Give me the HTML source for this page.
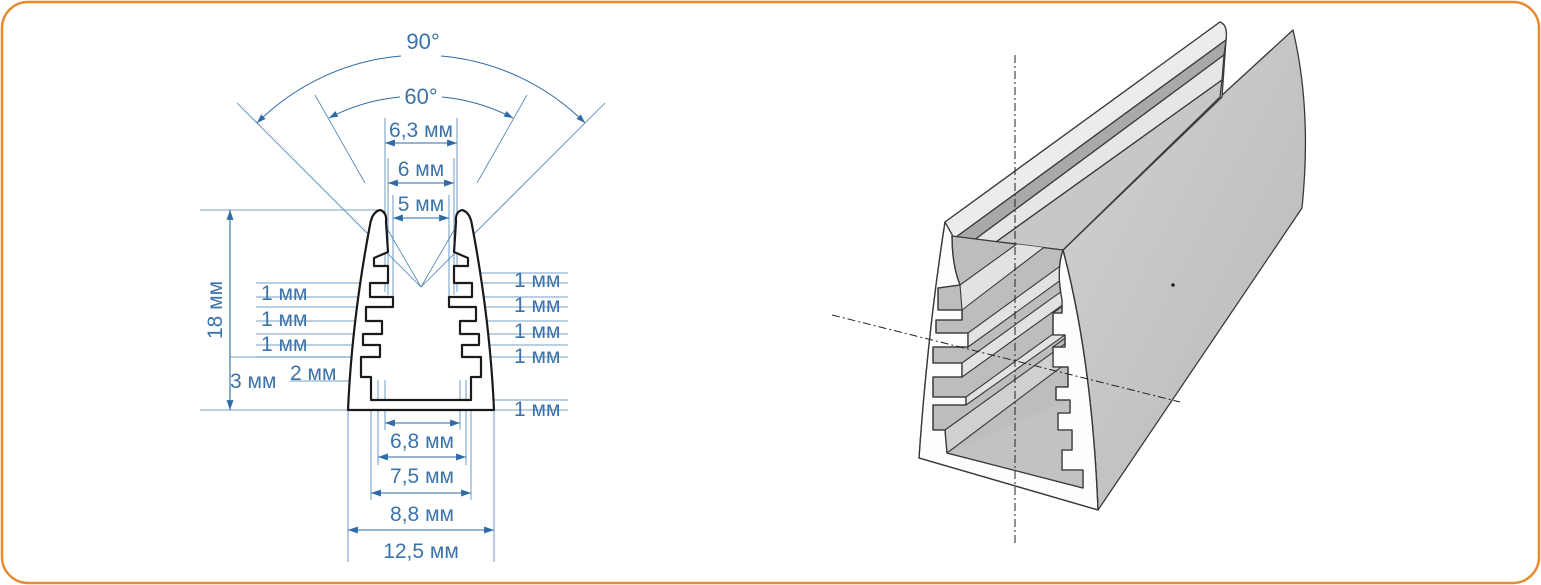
<!DOCTYPE html>
<html><head><meta charset="utf-8"><style>
html,body{margin:0;padding:0;background:#fff}
svg{display:block}
text{font-family:"Liberation Sans",sans-serif;fill:#3b73aa}
</style></head><body>
<svg width="1541" height="585" viewBox="0 0 1541 585" xmlns="http://www.w3.org/2000/svg">
<defs>
<marker id="a" viewBox="0 0 10 10" refX="10" refY="5" markerWidth="9" markerHeight="9" orient="auto-start-reverse"><path d="M0,1.5 L10,5 L0,8.5 Z" fill="#2f6aa6"/></marker>
<linearGradient id="g1" x1="0" y1="0" x2="1" y2="1"><stop offset="0" stop-color="#d2d2d2"/><stop offset="1" stop-color="#b8b8b8"/></linearGradient>
<clipPath id="op"><path id="opp" d="M952,236 Q952,265 960,285 L938,288 L938,310 L962,310 L962,320 L936,320 L936,333 L968,333 L968,347 L933,347 L933,363 L962,363 L962,377 L933,377 L933,397 L966,397 L966,405 L933,405 L933,430 L945,430 L947,453 L1083,488 L1083,470 L1062,470 L1062,450 L1072,450 L1072,430 L1058,430 L1058,413 L1070,413 L1070,400 L1056,400 L1056,387 L1068,387 L1068,367 L1053,367 L1053,347 L1065,347 L1065,335 L1053,335 L1053,313 L1062,313 L1062,300 Q1056,270 1063,250 Z"/></clipPath>
</defs>
<rect x="2" y="2" width="1537" height="581" rx="26" fill="#fff" stroke="#ea8a2e" stroke-width="2.5"/>

<!-- angle rays -->
<g stroke="#4a7fb5" stroke-width="0.8" fill="none">
<line x1="237" y1="103" x2="421" y2="287"/>
<line x1="605" y1="103" x2="421" y2="287"/>
<line x1="315" y1="95" x2="365" y2="183"/>
<line x1="527" y1="95" x2="477" y2="183"/>
<line x1="385" y1="225" x2="421" y2="287"/>
<line x1="457" y1="225" x2="421" y2="287"/>
</g>
<g stroke="#2f6aa6" stroke-width="1" fill="none">
<path d="M257,123 A232,232 0 0 1 401,56" marker-start="url(#a)"/>
<path d="M441,56 A232,232 0 0 1 585,123" marker-end="url(#a)"/>
<path d="M329,118 A192,192 0 0 1 400,97" marker-start="url(#a)"/>
<path d="M442,97 A192,192 0 0 1 513,118" marker-end="url(#a)"/>
</g>
<text x="423" y="49" font-size="22" text-anchor="middle">90°</text>
<text x="421" y="104" font-size="22" text-anchor="middle">60°</text>

<!-- dimension lines -->
<g stroke="#4a7fb5" stroke-width="0.8">
<line x1="385" y1="118" x2="385" y2="292"/><line x1="457" y1="118" x2="457" y2="292"/>
<line x1="388" y1="158" x2="388" y2="295"/><line x1="454" y1="158" x2="454" y2="295"/>
<line x1="393" y1="195" x2="393" y2="300"/><line x1="449" y1="195" x2="449" y2="300"/>
<line x1="200" y1="210" x2="380" y2="210"/>
<line x1="200" y1="410" x2="568" y2="410"/>
<line x1="230" y1="357" x2="360" y2="357"/>
<line x1="290" y1="381" x2="350" y2="381"/>
<line x1="256" y1="283" x2="372" y2="283"/><line x1="256" y1="297" x2="392" y2="297"/>
<line x1="256" y1="307" x2="392" y2="307"/><line x1="256" y1="321" x2="382" y2="321"/>
<line x1="256" y1="334" x2="382" y2="334"/><line x1="256" y1="345" x2="380" y2="345"/>
<line x1="256" y1="357" x2="380" y2="357"/>
<line x1="455" y1="273" x2="568" y2="273"/><line x1="455" y1="283" x2="568" y2="283"/>
<line x1="450" y1="297" x2="568" y2="297"/><line x1="450" y1="307" x2="568" y2="307"/>
<line x1="460" y1="321" x2="568" y2="321"/><line x1="460" y1="334" x2="568" y2="334"/>
<line x1="462" y1="345" x2="568" y2="345"/><line x1="462" y1="357" x2="568" y2="357"/>
<line x1="470" y1="400" x2="568" y2="400"/>
<line x1="348" y1="410" x2="348" y2="562"/><line x1="494" y1="410" x2="494" y2="562"/>
<line x1="371" y1="400" x2="371" y2="500"/><line x1="471" y1="400" x2="471" y2="500"/>
<line x1="378" y1="380" x2="378" y2="465"/><line x1="466" y1="380" x2="466" y2="465"/>
<line x1="385" y1="380" x2="385" y2="430"/><line x1="460" y1="380" x2="460" y2="430"/>
</g>
<g stroke="#2f6aa6" stroke-width="1.1">
<line x1="385" y1="143" x2="457" y2="143" marker-start="url(#a)" marker-end="url(#a)"/>
<line x1="388" y1="183" x2="454" y2="183" marker-start="url(#a)" marker-end="url(#a)"/>
<line x1="393" y1="218" x2="449" y2="218" marker-start="url(#a)" marker-end="url(#a)"/>
<line x1="230" y1="210" x2="230" y2="410" marker-start="url(#a)" marker-end="url(#a)"/>
<line x1="385" y1="423" x2="460" y2="423" marker-start="url(#a)" marker-end="url(#a)"/>
<line x1="378" y1="457" x2="466" y2="457" marker-start="url(#a)" marker-end="url(#a)"/>
<line x1="371" y1="493" x2="471" y2="493" marker-start="url(#a)" marker-end="url(#a)"/>
<line x1="348" y1="530" x2="494" y2="530" marker-start="url(#a)" marker-end="url(#a)"/>
</g>
<g font-size="21">
<text x="421" y="137" text-anchor="middle">6,3 мм</text>
<text x="421" y="176" text-anchor="middle">6 мм</text>
<text x="421" y="211" text-anchor="middle">5 мм</text>
<text x="422" y="448" text-anchor="middle">6,8 мм</text>
<text x="422" y="483" text-anchor="middle">7,5 мм</text>
<text x="422" y="521" text-anchor="middle">8,8 мм</text>
<text x="421" y="558" text-anchor="middle">12,5 мм</text>
<text x="222" y="310" text-anchor="middle" transform="rotate(-90 222 310)">18 мм</text>
<text x="230" y="388">3 мм</text>
<text x="290" y="380">2 мм</text>
<text x="261" y="300">1 мм</text>
<text x="261" y="326">1 мм</text>
<text x="261" y="351">1 мм</text>
<text x="514" y="287">1 мм</text>
<text x="514" y="312">1 мм</text>
<text x="514" y="338">1 мм</text>
<text x="514" y="363">1 мм</text>
<text x="514" y="416">1 мм</text>
</g>

<!-- profile -->
<path d="M380,210 Q387,212 386,222 L388,252 L374,258 L374,266 L388,266 L388,283 L370,283 L370,297 L393,297 L393,307 L366,307 L366,321 L382,321 L382,334 L363,334 L363,345 L380,345 L380,357 L361,357 L361,377 L371,377 L371,400 L471,400 L471,377 L481,377 L481,357 L462,357 L462,345 L479,345 L479,334 L460,334 L460,321 L476,321 L476,307 L449,307 L449,297 L472,297 L472,283 L454,283 L454,266 L468,266 L468,258 L454,252 L456,222 Q455,212 462,210 Q470,212 472,225 Q490,320 494,410 L348,410 Q352,320 370,225 Q372,212 380,210 Z" fill="#fff" stroke="#1a1a1a" stroke-width="2.2" stroke-linejoin="round"/>

<!-- 3D -->
<g stroke="#3a3a3a" stroke-width="1.3" stroke-linejoin="round">
<!-- right face -->
<path d="M1063,250 L1220,97 L1293,30 Q1312,110 1302,208 L1098,510 Q1092,360 1063,250 Z" fill="url(#g1)"/>
<!-- top rail -->
<path d="M945,222 L1220,22 Q1228,25 1226,40 L1222,97 L1063,250 L955,262 Z" fill="#d6d6d6"/>
<path d="M945,222 L1220,22 Q1228,25 1226,40 L952,240 Z" fill="#ececec"/>
<path d="M952,240 L1226,40 L1224,55 L958,252 Z" fill="#a9a9a9"/>
<path d="M958,252 L1224,55 L1222,80 L968,262 Z" fill="#e6e6e6"/>
<path d="M968,262 L1222,80 L1220,97 L1063,250 Z" fill="#c7c7c7"/>
<!-- front face -->
<path d="M945,222 Q928,330 919,458 L1098,510 Q1092,360 1063,250 L955,240 Z" fill="#fdfdfd"/>
<!-- opening -->
<path d="M952,236 Q952,265 960,285 L938,288 L938,310 L962,310 L962,320 L936,320 L936,333 L968,333 L968,347 L933,347 L933,363 L962,363 L962,377 L933,377 L933,397 L966,397 L966,405 L933,405 L933,430 L945,430 L947,453 L1083,488 L1083,470 L1062,470 L1062,450 L1072,450 L1072,430 L1058,430 L1058,413 L1070,413 L1070,400 L1056,400 L1056,387 L1068,387 L1068,367 L1053,367 L1053,347 L1065,347 L1065,335 L1053,335 L1053,313 L1062,313 L1062,300 Q1056,270 1063,250 Z" fill="#bdbdbd"/>
<g clip-path="url(#op)" stroke="#3a3a3a" stroke-width="1.1">
<path d="M960,285 L1230,90 L1230,105 L962,310 Z" fill="#e2e2e2"/>
<path d="M968,333 L1230,143 L1230,158 L968,347 Z" fill="#e2e2e2"/>
<path d="M962,363 L1230,170 L1230,185 L962,377 Z" fill="#e2e2e2"/>
<path d="M966,397 L1230,206 L1230,218 L966,405 Z" fill="#e2e2e2"/>
<path d="M945,430 L1230,225 L1230,240 L947,453 Z" fill="#d0d0d0"/>
<path d="M1053,313 L1230,185 M1053,347 L1230,220 M1053,367 L1230,240" fill="none"/>
<path d="M947,453 L1083,488 L1230,380 L1230,330 Z" fill="#c2c2c2" stroke="none"/>
</g>
<path d="M952,236 Q952,265 960,285 L938,288 L938,310 L962,310 L962,320 L936,320 L936,333 L968,333 L968,347 L933,347 L933,363 L962,363 L962,377 L933,377 L933,397 L966,397 L966,405 L933,405 L933,430 L945,430 L947,453 L1083,488 L1083,470 L1062,470 L1062,450 L1072,450 L1072,430 L1058,430 L1058,413 L1070,413 L1070,400 L1056,400 L1056,387 L1068,387 L1068,367 L1053,367 L1053,347 L1065,347 L1065,335 L1053,335 L1053,313 L1062,313 L1062,300 Q1056,270 1063,250" fill="none"/>
<path d="M945,222 Q928,330 919,458 L1098,510 Q1092,360 1063,250" fill="none"/>
</g>
<g stroke="#222" stroke-width="1" stroke-dasharray="8,3,2,3" fill="none">
<line x1="1015" y1="55" x2="1015" y2="545"/>
<line x1="832" y1="315" x2="1180" y2="402"/>
</g>
<circle cx="1173" cy="285" r="1.8" fill="#222"/>
</svg>
</body></html>
